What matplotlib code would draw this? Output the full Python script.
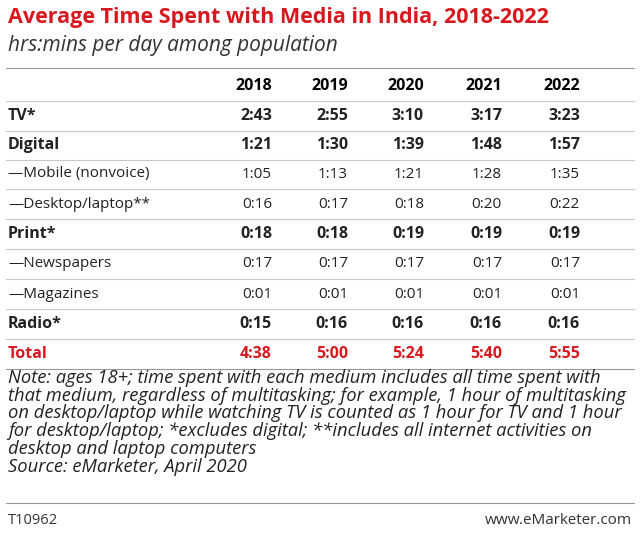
import matplotlib
matplotlib.use("Agg")
import matplotlib.pyplot as plt
from matplotlib.lines import Line2D

years = ["2018", "2019", "2020", "2021", "2022"]
row_labels = ["TV*", "Digital", "—Mobile (nonvoice)", "—Desktop/laptop**",
              "Print*", "—Newspapers", "—Magazines", "Radio*", "Total"]
values = [
    ["2:43", "2:55", "3:10", "3:17", "3:23"],
    ["1:21", "1:30", "1:39", "1:48", "1:57"],
    ["1:05", "1:13", "1:21", "1:28", "1:35"],
    ["0:16", "0:17", "0:18", "0:20", "0:22"],
    ["0:18", "0:18", "0:19", "0:19", "0:19"],
    ["0:17", "0:17", "0:17", "0:17", "0:17"],
    ["0:01", "0:01", "0:01", "0:01", "0:01"],
    ["0:15", "0:16", "0:16", "0:16", "0:16"],
    ["4:38", "5:00", "5:24", "5:40", "5:55"],
]
bold_rows = [True, True, False, False, True, False, False, True, True]

W, H = 640, 535
RED = "#d7191f"
fig = plt.figure(figsize=(W / 100, H / 100), dpi=100)
fig.patch.set_facecolor("white")
font = "Open Sans"

def txt(x, y, s, **kw):
    kw.setdefault("family", font)
    fig.text(x / W, 1 - y / H, s, va="center", **kw)

def hline(y, x0=6, x1=634, c="#c8c8c8", lw=0.8):
    fig.add_artist(Line2D([x0 / W, x1 / W], [1 - y / H, 1 - y / H], color=c, lw=lw))

txt(8, 18, "Average Time Spent with Media in India, 2018-2022", size=15.5, weight="bold", color=RED)
txt(8, 46, "hrs:mins per day among population", size=15, style="italic", color="#333333")
hline(68, c="#999999")

col_x = [272, 348, 424, 502, 580]
for x, yr in zip(col_x, years):
    txt(x, 86, yr, size=11.5, weight="bold", ha="right")
hline(101)

row_y = [116, 145, 174, 204, 234, 264, 294, 324, 354]
for i, (lab, vals, b) in enumerate(zip(row_labels, values, bold_rows)):
    y = row_y[i]
    color = RED if lab == "Total" else "#222222"
    w = "bold" if b else "normal"
    sz = 11.5 if b else 11
    txt(8, y, lab, size=sz, weight=w, color=color)
    for x, v in zip(col_x, vals):
        txt(x, y, v, size=sz, weight=w, color=color, ha="right")
    if i < len(row_labels) - 1:
        hline(y + 15)
hline(369, c="#999999")

note = ("Note: ages 18+; time spent with each medium includes all time spent with\n"
        "that medium, regardless of multitasking; for example, 1 hour of multitasking\n"
        "on desktop/laptop while watching TV is counted as 1 hour for TV and 1 hour\n"
        "for desktop/laptop; *excludes digital; **includes all internet activities on\n"
        "desktop and laptop computers\n"
        "Source: eMarketer, April 2020")
fig.text(8 / W, 1 - 369 / H, note, va="top", family=font, size=13.2,
         style="italic", color="#222222", linespacing=0.98)

hline(503, c="#999999")
txt(8, 520, "T10962", size=10.5, color="#333333")
txt(632, 520, "www.eMarketer.com", size=11, ha="right", color="#333333")

fig.savefig("out.png", dpi=100, facecolor="white")
